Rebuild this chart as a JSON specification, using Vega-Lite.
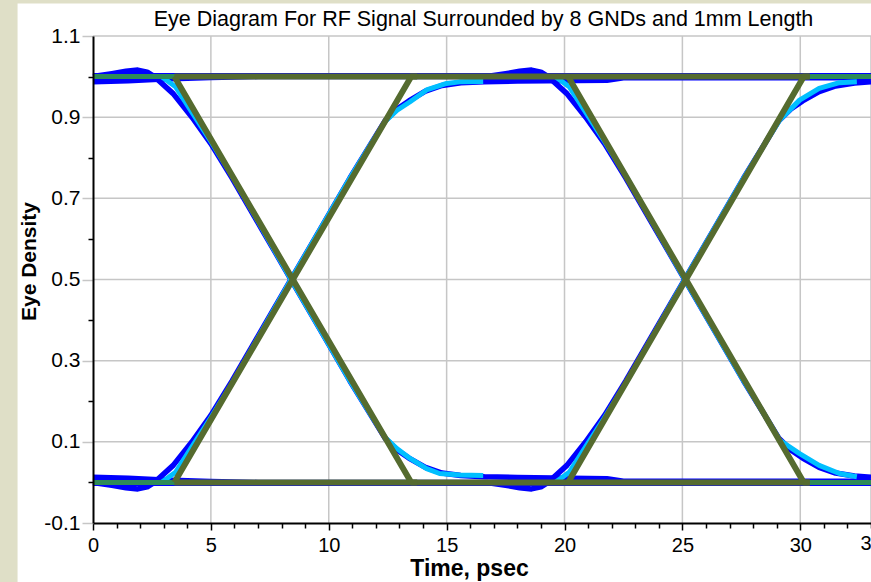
{
  "$schema": "https://vega.github.io/schema/vega-lite/v6.json",
  "width": 778,
  "height": 487,
  "autosize": {"type": "none"},
  "padding": {"left": 93, "top": 36, "right": 0, "bottom": 59},
  "background": "#DFDFC7",
  "config": {"view": {"stroke": null}, "font": "Liberation Sans", "axis": {"labelOverlap": false}},
  "resolve": {"axis": {"x": "independent"}},
  "datasets": {
    "gx": [{"g": 5}, {"g": 10}, {"g": 15}, {"g": 20}, {"g": 25}, {"g": 30}, {"g": 33}],
    "gy": [{"g": 0.1}, {"g": 0.3}, {"g": 0.5}, {"g": 0.7}, {"g": 0.9}, {"g": 1.1}],
    "curves": [
      {"s": "blue", "k": "b5", "t": 0, "v": 1.002}, {"s": "blue", "k": "b5", "t": 33, "v": 1.002},
      {"s": "blue", "k": "b6", "t": 0, "v": -0.002}, {"s": "blue", "k": "b6", "t": 33, "v": -0.002},
      {"s": "blue", "k": "b1", "t": 0, "v": 1.0}, {"s": "blue", "k": "b1", "t": 0.8, "v": 1.007}, {"s": "blue", "k": "b1", "t": 1.4, "v": 1.013}, {"s": "blue", "k": "b1", "t": 1.9, "v": 1.016}, {"s": "blue", "k": "b1", "t": 2.3, "v": 1.011}, {"s": "blue", "k": "b1", "t": 2.6, "v": 1.0}, {"s": "blue", "k": "b1", "t": 3.4, "v": 0.958}, {"s": "blue", "k": "b1", "t": 4.2, "v": 0.9}, {"s": "blue", "k": "b1", "t": 5.0, "v": 0.835}, {"s": "blue", "k": "b1", "t": 5.9, "v": 0.75}, {"s": "blue", "k": "b1", "t": 7.15, "v": 0.625}, {"s": "blue", "k": "b1", "t": 8.4, "v": 0.5}, {"s": "blue", "k": "b1", "t": 9.65, "v": 0.375}, {"s": "blue", "k": "b1", "t": 10.9, "v": 0.25}, {"s": "blue", "k": "b1", "t": 11.8, "v": 0.165}, {"s": "blue", "k": "b1", "t": 12.4, "v": 0.108}, {"s": "blue", "k": "b1", "t": 12.9, "v": 0.08}, {"s": "blue", "k": "b1", "t": 13.4, "v": 0.06}, {"s": "blue", "k": "b1", "t": 14.1, "v": 0.037}, {"s": "blue", "k": "b1", "t": 14.8, "v": 0.023}, {"s": "blue", "k": "b1", "t": 15.6, "v": 0.017}, {"s": "blue", "k": "b1", "t": 16.6, "v": 0.014}, {"s": "blue", "k": "b1", "t": 18, "v": 0.012}, {"s": "blue", "k": "b1", "t": 21.8, "v": 0.009}, {"s": "blue", "k": "b1", "t": 22.5, "v": 0.003}, {"s": "blue", "k": "b1", "t": 33, "v": 0.003},
      {"s": "blue", "k": "b2", "t": 0, "v": 0.0}, {"s": "blue", "k": "b2", "t": 0.8, "v": -0.007}, {"s": "blue", "k": "b2", "t": 1.4, "v": -0.013}, {"s": "blue", "k": "b2", "t": 1.9, "v": -0.016}, {"s": "blue", "k": "b2", "t": 2.3, "v": -0.011}, {"s": "blue", "k": "b2", "t": 2.6, "v": 0.0}, {"s": "blue", "k": "b2", "t": 3.4, "v": 0.042}, {"s": "blue", "k": "b2", "t": 4.2, "v": 0.1}, {"s": "blue", "k": "b2", "t": 5.0, "v": 0.165}, {"s": "blue", "k": "b2", "t": 5.9, "v": 0.25}, {"s": "blue", "k": "b2", "t": 7.15, "v": 0.375}, {"s": "blue", "k": "b2", "t": 8.4, "v": 0.5}, {"s": "blue", "k": "b2", "t": 9.65, "v": 0.625}, {"s": "blue", "k": "b2", "t": 10.9, "v": 0.75}, {"s": "blue", "k": "b2", "t": 11.8, "v": 0.835}, {"s": "blue", "k": "b2", "t": 12.4, "v": 0.892}, {"s": "blue", "k": "b2", "t": 12.9, "v": 0.92}, {"s": "blue", "k": "b2", "t": 13.4, "v": 0.94}, {"s": "blue", "k": "b2", "t": 14.1, "v": 0.964}, {"s": "blue", "k": "b2", "t": 14.8, "v": 0.978}, {"s": "blue", "k": "b2", "t": 15.6, "v": 0.985}, {"s": "blue", "k": "b2", "t": 16.6, "v": 0.987}, {"s": "blue", "k": "b2", "t": 18, "v": 0.989}, {"s": "blue", "k": "b2", "t": 21.8, "v": 0.991}, {"s": "blue", "k": "b2", "t": 22.5, "v": 0.997}, {"s": "blue", "k": "b2", "t": 33, "v": 0.997},
      {"s": "blue", "k": "b3", "t": 0, "v": 0.987}, {"s": "blue", "k": "b3", "t": 1.5, "v": 0.99}, {"s": "blue", "k": "b3", "t": 3, "v": 0.994}, {"s": "blue", "k": "b3", "t": 5, "v": 0.998}, {"s": "blue", "k": "b3", "t": 7, "v": 1.0}, {"s": "blue", "k": "b3", "t": 16.7, "v": 1.0}, {"s": "blue", "k": "b3", "t": 17.5, "v": 1.007}, {"s": "blue", "k": "b3", "t": 18.1, "v": 1.013}, {"s": "blue", "k": "b3", "t": 18.6, "v": 1.016}, {"s": "blue", "k": "b3", "t": 19.0, "v": 1.011}, {"s": "blue", "k": "b3", "t": 19.3, "v": 1.0}, {"s": "blue", "k": "b3", "t": 20.1, "v": 0.958}, {"s": "blue", "k": "b3", "t": 20.9, "v": 0.9}, {"s": "blue", "k": "b3", "t": 21.7, "v": 0.835}, {"s": "blue", "k": "b3", "t": 22.6, "v": 0.75}, {"s": "blue", "k": "b3", "t": 23.85, "v": 0.625}, {"s": "blue", "k": "b3", "t": 25.1, "v": 0.5}, {"s": "blue", "k": "b3", "t": 26.35, "v": 0.375}, {"s": "blue", "k": "b3", "t": 27.6, "v": 0.25}, {"s": "blue", "k": "b3", "t": 28.5, "v": 0.165}, {"s": "blue", "k": "b3", "t": 29.1, "v": 0.108}, {"s": "blue", "k": "b3", "t": 29.6, "v": 0.08}, {"s": "blue", "k": "b3", "t": 30.1, "v": 0.06}, {"s": "blue", "k": "b3", "t": 30.8, "v": 0.037}, {"s": "blue", "k": "b3", "t": 31.5, "v": 0.023}, {"s": "blue", "k": "b3", "t": 32.3, "v": 0.016}, {"s": "blue", "k": "b3", "t": 33, "v": 0.013},
      {"s": "blue", "k": "b4", "t": 0, "v": 0.013}, {"s": "blue", "k": "b4", "t": 1.5, "v": 0.01}, {"s": "blue", "k": "b4", "t": 3, "v": 0.006}, {"s": "blue", "k": "b4", "t": 5, "v": 0.002}, {"s": "blue", "k": "b4", "t": 7, "v": 0.0}, {"s": "blue", "k": "b4", "t": 16.7, "v": 0.0}, {"s": "blue", "k": "b4", "t": 17.5, "v": -0.007}, {"s": "blue", "k": "b4", "t": 18.1, "v": -0.013}, {"s": "blue", "k": "b4", "t": 18.6, "v": -0.016}, {"s": "blue", "k": "b4", "t": 19.0, "v": -0.011}, {"s": "blue", "k": "b4", "t": 19.3, "v": 0.0}, {"s": "blue", "k": "b4", "t": 20.1, "v": 0.042}, {"s": "blue", "k": "b4", "t": 20.9, "v": 0.1}, {"s": "blue", "k": "b4", "t": 21.7, "v": 0.165}, {"s": "blue", "k": "b4", "t": 22.6, "v": 0.25}, {"s": "blue", "k": "b4", "t": 23.85, "v": 0.375}, {"s": "blue", "k": "b4", "t": 25.1, "v": 0.5}, {"s": "blue", "k": "b4", "t": 26.35, "v": 0.625}, {"s": "blue", "k": "b4", "t": 27.6, "v": 0.75}, {"s": "blue", "k": "b4", "t": 28.5, "v": 0.835}, {"s": "blue", "k": "b4", "t": 29.1, "v": 0.892}, {"s": "blue", "k": "b4", "t": 29.6, "v": 0.92}, {"s": "blue", "k": "b4", "t": 30.1, "v": 0.94}, {"s": "blue", "k": "b4", "t": 30.8, "v": 0.963}, {"s": "blue", "k": "b4", "t": 31.5, "v": 0.977}, {"s": "blue", "k": "b4", "t": 32.3, "v": 0.984}, {"s": "blue", "k": "b4", "t": 33, "v": 0.987},
      {"s": "cyan", "k": "c1", "t": 2.9, "v": 1.0}, {"s": "cyan", "k": "c1", "t": 3.5, "v": 0.975}, {"s": "cyan", "k": "c1", "t": 4.2, "v": 0.912}, {"s": "cyan", "k": "c1", "t": 5.0, "v": 0.84}, {"s": "cyan", "k": "c1", "t": 5.9, "v": 0.755}, {"s": "cyan", "k": "c1", "t": 7.15, "v": 0.628}, {"s": "cyan", "k": "c1", "t": 8.4, "v": 0.5}, {"s": "cyan", "k": "c1", "t": 9.65, "v": 0.375}, {"s": "cyan", "k": "c1", "t": 10.9, "v": 0.25}, {"s": "cyan", "k": "c1", "t": 11.8, "v": 0.165}, {"s": "cyan", "k": "c1", "t": 12.4, "v": 0.11}, {"s": "cyan", "k": "c1", "t": 12.9, "v": 0.083}, {"s": "cyan", "k": "c1", "t": 13.45, "v": 0.059}, {"s": "cyan", "k": "c1", "t": 14.15, "v": 0.034}, {"s": "cyan", "k": "c1", "t": 14.7, "v": 0.022}, {"s": "cyan", "k": "c1", "t": 15.55, "v": 0.018}, {"s": "cyan", "k": "c1", "t": 16.55, "v": 0.017},
      {"s": "cyan", "k": "c2", "t": 2.9, "v": 0.0}, {"s": "cyan", "k": "c2", "t": 3.5, "v": 0.025}, {"s": "cyan", "k": "c2", "t": 4.2, "v": 0.088}, {"s": "cyan", "k": "c2", "t": 5.0, "v": 0.16}, {"s": "cyan", "k": "c2", "t": 5.9, "v": 0.245}, {"s": "cyan", "k": "c2", "t": 7.15, "v": 0.372}, {"s": "cyan", "k": "c2", "t": 8.4, "v": 0.5}, {"s": "cyan", "k": "c2", "t": 9.65, "v": 0.625}, {"s": "cyan", "k": "c2", "t": 10.9, "v": 0.75}, {"s": "cyan", "k": "c2", "t": 11.8, "v": 0.835}, {"s": "cyan", "k": "c2", "t": 12.4, "v": 0.89}, {"s": "cyan", "k": "c2", "t": 12.9, "v": 0.917}, {"s": "cyan", "k": "c2", "t": 13.45, "v": 0.938}, {"s": "cyan", "k": "c2", "t": 14.15, "v": 0.967}, {"s": "cyan", "k": "c2", "t": 15.0, "v": 0.983}, {"s": "cyan", "k": "c2", "t": 15.55, "v": 0.987}, {"s": "cyan", "k": "c2", "t": 16.55, "v": 0.988},
      {"s": "cyan", "k": "c3", "t": 19.6, "v": 1.0}, {"s": "cyan", "k": "c3", "t": 20.2, "v": 0.975}, {"s": "cyan", "k": "c3", "t": 20.9, "v": 0.912}, {"s": "cyan", "k": "c3", "t": 21.7, "v": 0.84}, {"s": "cyan", "k": "c3", "t": 22.6, "v": 0.755}, {"s": "cyan", "k": "c3", "t": 23.85, "v": 0.628}, {"s": "cyan", "k": "c3", "t": 25.1, "v": 0.5}, {"s": "cyan", "k": "c3", "t": 26.35, "v": 0.375}, {"s": "cyan", "k": "c3", "t": 27.6, "v": 0.25}, {"s": "cyan", "k": "c3", "t": 28.5, "v": 0.165}, {"s": "cyan", "k": "c3", "t": 29.13, "v": 0.104}, {"s": "cyan", "k": "c3", "t": 29.97, "v": 0.071}, {"s": "cyan", "k": "c3", "t": 30.8, "v": 0.042}, {"s": "cyan", "k": "c3", "t": 31.66, "v": 0.022}, {"s": "cyan", "k": "c3", "t": 32.4, "v": 0.014},
      {"s": "cyan", "k": "c4", "t": 19.6, "v": 0.0}, {"s": "cyan", "k": "c4", "t": 20.2, "v": 0.025}, {"s": "cyan", "k": "c4", "t": 20.9, "v": 0.088}, {"s": "cyan", "k": "c4", "t": 21.7, "v": 0.16}, {"s": "cyan", "k": "c4", "t": 22.6, "v": 0.245}, {"s": "cyan", "k": "c4", "t": 23.85, "v": 0.372}, {"s": "cyan", "k": "c4", "t": 25.1, "v": 0.5}, {"s": "cyan", "k": "c4", "t": 26.35, "v": 0.625}, {"s": "cyan", "k": "c4", "t": 27.6, "v": 0.75}, {"s": "cyan", "k": "c4", "t": 28.5, "v": 0.835}, {"s": "cyan", "k": "c4", "t": 29.13, "v": 0.893}, {"s": "cyan", "k": "c4", "t": 29.97, "v": 0.942}, {"s": "cyan", "k": "c4", "t": 30.8, "v": 0.971}, {"s": "cyan", "k": "c4", "t": 31.66, "v": 0.985}, {"s": "cyan", "k": "c4", "t": 32.4, "v": 0.987},
      {"s": "seagreen", "k": "g1", "t": 0, "v": 1.0}, {"s": "seagreen", "k": "g1", "t": 33, "v": 1.0},
      {"s": "seagreen", "k": "g2", "t": 0, "v": 0.0}, {"s": "seagreen", "k": "g2", "t": 33, "v": 0.0},
      {"s": "olive", "k": "o1", "t": 3.45, "v": 1.0}, {"s": "olive", "k": "o1", "t": 30.4, "v": 1.0},
      {"s": "olive", "k": "o2", "t": 3.45, "v": 0.0}, {"s": "olive", "k": "o2", "t": 30.4, "v": 0.0},
      {"s": "olive", "k": "o3", "t": 3.45, "v": 1.0}, {"s": "olive", "k": "o3", "t": 13.5, "v": 0.0}, {"s": "olive", "k": "o3", "t": 13.75, "v": 0.0},
      {"s": "olive", "k": "o4", "t": 3.45, "v": 0.0}, {"s": "olive", "k": "o4", "t": 13.5, "v": 1.0}, {"s": "olive", "k": "o4", "t": 13.75, "v": 1.0},
      {"s": "olive", "k": "o5", "t": 20.15, "v": 1.0}, {"s": "olive", "k": "o5", "t": 30.15, "v": 0.0}, {"s": "olive", "k": "o5", "t": 30.4, "v": 0.0},
      {"s": "olive", "k": "o6", "t": 20.15, "v": 0.0}, {"s": "olive", "k": "o6", "t": 30.15, "v": 1.0}, {"s": "olive", "k": "o6", "t": 30.4, "v": 1.0}
    ]
  },
  "layer": [
    {
      "data": {"values": [{}]},
      "mark": {"type": "rect", "fill": "white", "clip": false},
      "encoding": {
        "x": {"datum": -3.2, "type": "quantitative", "scale": {"domain": [0, 33], "nice": false, "zero": false}, "axis": null},
        "x2": {"datum": 34},
        "y": {"datum": 1.18, "type": "quantitative", "scale": {"domain": [-0.1, 1.1], "nice": false, "zero": false}},
        "y2": {"datum": -0.4}
      }
    },
    {
      "data": {"name": "gx"},
      "mark": {"type": "rule", "color": "#C6C6C6", "strokeWidth": 1.5},
      "encoding": {
        "x": {
          "field": "g", "type": "quantitative",
          "scale": {"domain": [0, 33], "nice": false, "zero": false},
          "axis": {
            "orient": "top", "domain": false, "ticks": false, "labels": false, "grid": false,
            "title": "Eye Diagram For RF Signal Surrounded by 8 GNDs and 1mm Length",
            "titleFont": "Liberation Sans", "titleFontSize": 21.5, "titleFontWeight": "normal", "titleColor": "black",
            "titleX": 390, "titleY": -11, "titleBaseline": "alphabetic", "titleAlign": "center", "titleAngle": 0,
            "zindex": 1
          }
        }
      }
    },
    {
      "data": {"name": "gy"},
      "mark": {"type": "rule", "color": "#C6C6C6", "strokeWidth": 1.5},
      "encoding": {"y": {"field": "g", "type": "quantitative", "scale": {"domain": [-0.1, 1.1], "nice": false, "zero": false}}}
    },
    {
      "data": {"name": "curves"},
      "encoding": {
        "x": {
          "field": "t", "type": "quantitative",
          "scale": {"domain": [0, 33], "nice": false, "zero": false},
          "axis": {
            "orient": "bottom",
            "values": [0, 1, 2, 3, 4, 5, 6, 7, 8, 9, 10, 11, 12, 13, 14, 15, 16, 17, 18, 19, 20, 21, 22, 23, 24, 25, 26, 27, 28, 29, 30, 31, 32, 33],
            "labelExpr": "(datum.value % 5 == 0 || datum.value == 33) ? ('' + datum.value) : ''",
            "labelFlush": false, "labelOverlap": false,
            "labelFont": "Liberation Sans", "labelFontSize": 20, "labelColor": "black", "labelPadding": 5,
            "tickColor": "black", "tickWidth": 1.5,
            "tickSize": {"condition": {"test": "datum.value % 5 == 0", "value": 7}, "value": 5},
            "domainColor": "black", "domainWidth": 2,
            "grid": false,
            "title": "Time, psec", "titleFont": "Liberation Sans", "titleFontSize": 23, "titleFontWeight": "bold", "titleColor": "black",
            "titleX": 376, "titleY": 52, "titleBaseline": "alphabetic", "titleAlign": "center",
            "zindex": 1
          }
        },
        "y": {
          "field": "v", "type": "quantitative",
          "scale": {"domain": [-0.1, 1.1], "nice": false, "zero": false},
          "axis": {
            "values": [-0.1, 0, 0.1, 0.2, 0.3, 0.4, 0.5, 0.6, 0.7, 0.8, 0.9, 1, 1.1],
            "labelExpr": "abs(round(datum.value * 10)) % 2 == 1 ? ('' + datum.value) : ''",
            "labelOverlap": false, "labelFlush": false,
            "labelFont": "Liberation Sans", "labelFontSize": 21, "labelColor": "black", "labelPadding": 2,
            "tickWidth": 1.5,
            "tickColor": {"condition": {"test": "abs(round(datum.value * 10)) % 2 == 1", "value": "#C6C6C6"}, "value": "black"},
            "tickSize": {"condition": {"test": "abs(round(datum.value * 10)) % 2 == 1", "value": 11}, "value": 5},
            "domainColor": "black", "domainWidth": 2,
            "grid": false,
            "title": "Eye Density", "titleFont": "Liberation Sans", "titleFontSize": 21, "titleFontWeight": "bold", "titleColor": "black",
            "titleX": -64, "titleY": 225, "titleAngle": -90, "titleBaseline": "middle", "titleAlign": "center",
            "zindex": 1
          }
        },
        "detail": {"field": "k", "type": "nominal"}
      },
      "layer": [
        {"transform": [{"filter": "datum.s == 'blue'"}], "mark": {"type": "line", "color": "#0000FF", "strokeWidth": 5.5, "strokeJoin": "round"}},
        {"transform": [{"filter": "datum.s == 'cyan'"}], "mark": {"type": "line", "color": "#00BFFF", "strokeWidth": 5, "strokeJoin": "round"}},
        {"transform": [{"filter": "datum.s == 'seagreen'"}], "mark": {"type": "line", "color": "#2E8B57", "strokeWidth": 5, "strokeJoin": "round"}},
        {"transform": [{"filter": "datum.s == 'olive'"}], "mark": {"type": "line", "color": "#556B2F", "strokeWidth": 6, "strokeJoin": "round"}}
      ]
    }
  ]
}
